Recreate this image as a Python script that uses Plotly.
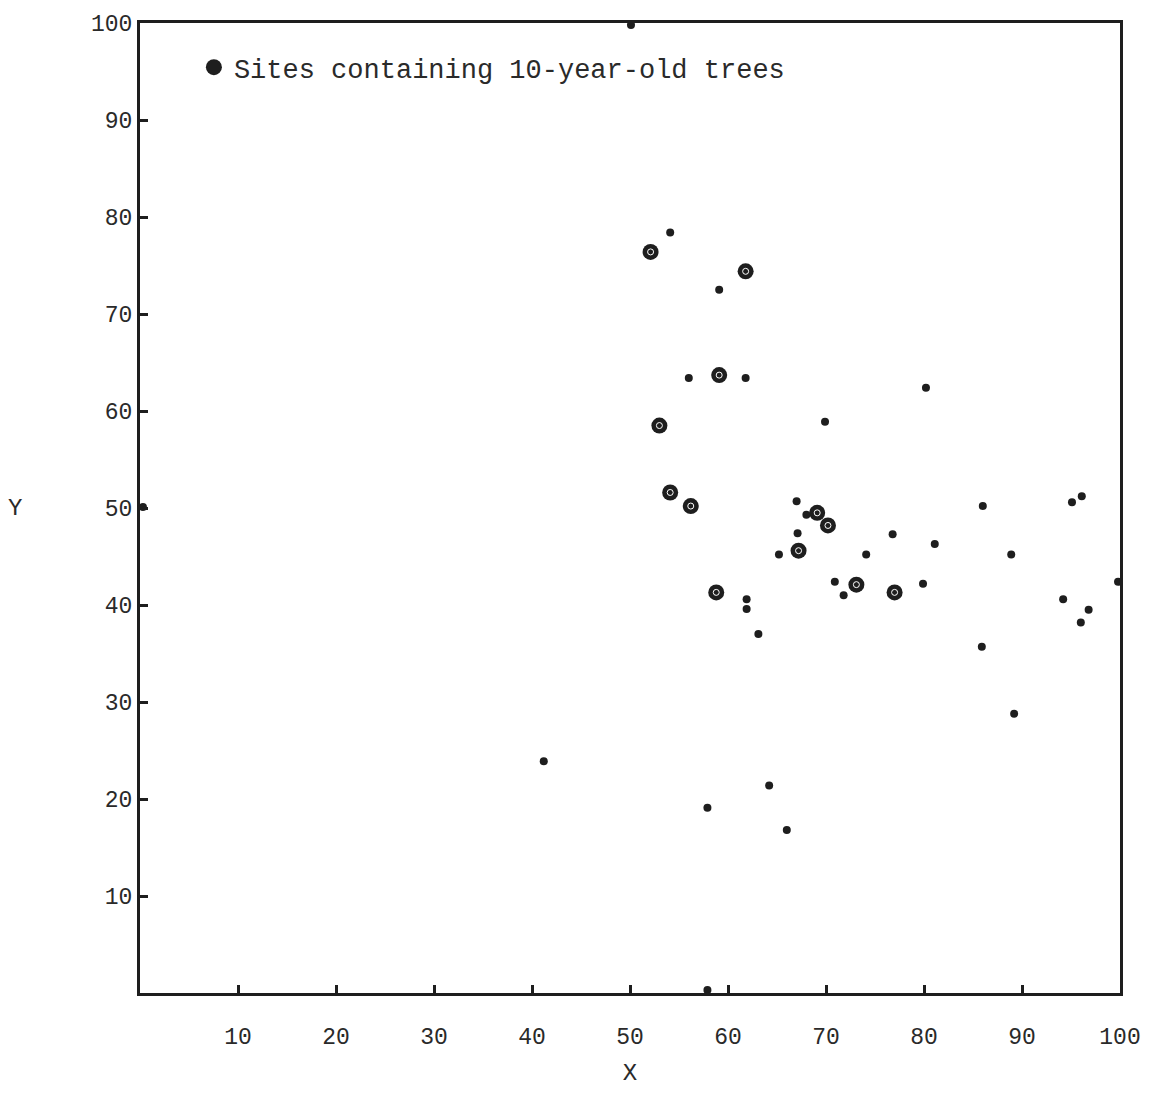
import plotly.graph_objects as go

# Sites containing 10-year-old trees (large circles)
site10_x = [52.1, 61.8, 59.1, 53.0, 54.1, 56.2, 69.1, 70.2, 67.2, 58.8, 73.1, 77.0]
site10_y = [76.4, 74.4, 63.7, 58.5, 51.6, 50.2, 49.5, 48.2, 45.6, 41.3, 42.1, 41.3]

# Other sites (small dots)
other_x = [54.1, 59.1, 56.0, 61.8, 80.2, 69.9, 67.0, 68.0, 67.1, 65.2, 74.1, 76.8,
           81.1, 86.0, 88.9, 95.1, 96.1, 70.9, 71.8, 79.9, 61.9, 61.9, 63.1, 94.2,
           96.8, 96.0, 85.9, 89.2, 64.2, 57.9, 66.0, 41.2, 99.8, 0.3, 50.1, 57.9]
other_y = [78.4, 72.5, 63.4, 63.4, 62.4, 58.9, 50.7, 49.3, 47.4, 45.2, 45.2, 47.3,
           46.3, 50.2, 45.2, 50.6, 51.2, 42.4, 41.0, 42.2, 40.6, 39.6, 37.0, 40.6,
           39.5, 38.2, 35.7, 28.8, 21.4, 19.1, 16.8, 23.9, 42.4, 50.1, 99.8, 0.3]

tick_vals = [10, 20, 30, 40, 50, 60, 70, 80, 90, 100]
tick_text = ["10", "20", "30", "40", "50", "60", "70", "80", "90", "100"]

ink = "#1e1e1e"
text_col = "#2a2a2a"

fig = go.Figure()
fig.add_trace(go.Scatter(
    x=other_x, y=other_y, mode="markers",
    marker=dict(size=8, color=ink, line=dict(width=0)),
    showlegend=False, hoverinfo="skip"))
fig.add_trace(go.Scatter(
    x=site10_x, y=site10_y, mode="markers",
    name="Sites containing 10-year-old trees",
    marker=dict(size=16, color=ink, line=dict(width=0)),
    hoverinfo="skip"))
fig.add_trace(go.Scatter(
    x=site10_x, y=site10_y, mode="markers",
    marker=dict(size=6, symbol="circle-open", color="white", line=dict(width=1, color="white")),
    showlegend=False, hoverinfo="skip"))

axis_common = dict(
    range=[0, 100], showgrid=False, zeroline=False,
    showline=True, linewidth=3, linecolor=ink, mirror=True,
    ticks="inside", ticklen=8, tickwidth=3, tickcolor=ink,
    tickmode="array", tickvals=tick_vals, ticktext=tick_text,
    tickfont=dict(family="Liberation Mono", size=23, color=text_col),
)

fig.update_layout(
    width=1160, height=1113,
    margin=dict(l=140, r=40, t=18, b=120),
    paper_bgcolor="white", plot_bgcolor="white",
    xaxis=dict(**axis_common, ticklabelstandoff=20,
               title=dict(text="X", font=dict(family="Liberation Mono", size=24, color=text_col), standoff=14)),
    yaxis=dict(**axis_common, ticklabelstandoff=0),
    legend=dict(x=0.055, y=0.954, xanchor="left", yanchor="middle",
                bgcolor="rgba(0,0,0,0)",
                font=dict(family="Liberation Mono", size=27, color=text_col)),
    annotations=[dict(text="Y", xref="paper", yref="paper", x=-0.128, y=0.5,
                      showarrow=False, xanchor="center", yanchor="middle",
                      font=dict(family="Liberation Mono", size=24, color=text_col))],
)

fig.write_html("out.html")
